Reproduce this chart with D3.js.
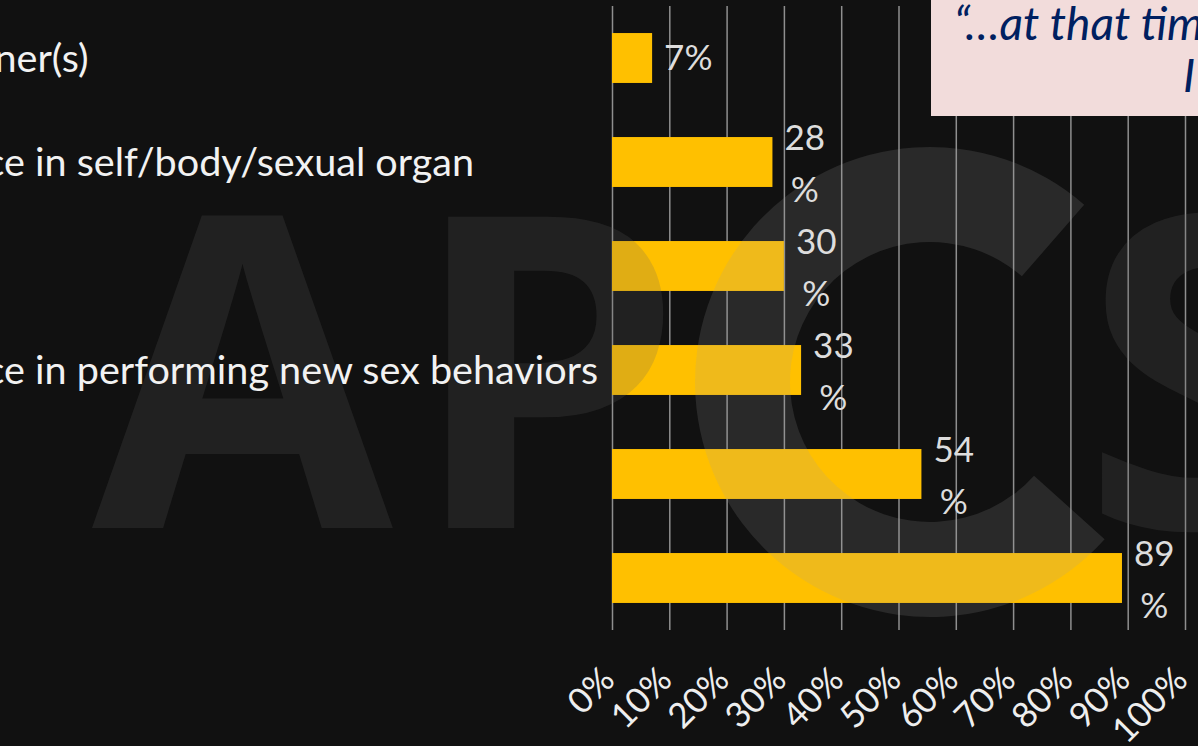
<!DOCTYPE html>
<html><head><meta charset="utf-8">
<script src="https://cdn.jsdelivr.net/npm/d3@7"></script>
<style>
html,body{margin:0;padding:0;background:#111;overflow:hidden}
svg{display:block}
</style></head><body>
<svg id="chart" width="1198" height="746"></svg>
<script>
// ---- data ----
const categories = [
  "Closeness to partner(s)",
  "Greater confidence in self/body/sexual organ",
  "",
  "Greater confidence in performing new sex behaviors",
  "",
  ""
];
const values = [7, 28, 30, 33, 54, 89];
const valueLabels = ["7%", "28%", "30%", "33%", "54%", "89%"];
const tickValues = [0, 10, 20, 30, 40, 50, 60, 70, 80, 90, 100];
const tickLabels = ["0%", "10%", "20%", "30%", "40%", "50%", "60%", "70%", "80%", "90%", "100%"];
const quoteLines = ["\u201C\u2026at that time", "I"];
const watermarkLetters = ["A", "P", "S"];

// ---- setup ----
const W = 1198, H = 746;
const svg = d3.select("#chart");
svg.append("rect").attr("width", W).attr("height", H).attr("fill", "#111111");

const FONT = "Lato, 'Open Sans', sans-serif";
const x = d3.scaleLinear().domain([0, 100]).range([612, 1185]);
const y = d3.scaleBand().domain(d3.range(values.length)).range([6, 630])
  .paddingInner(0.52).paddingOuter(0.26);

// gridlines + tick labels
const axis = d3.axisBottom(x).tickValues(tickValues)
  .tickFormat((d, i) => tickLabels[i]).tickSize(-(630 - 6)).tickPadding(0);
const gx = svg.append("g").attr("transform", "translate(0,630)").call(axis);
gx.select(".domain").remove();
gx.selectAll(".tick line").attr("stroke", "#8f8f8f").attr("stroke-width", 1.5);
gx.selectAll(".tick text")
  .attr("x", null).attr("y", null).attr("dy", null)
  .attr("text-anchor", "end")
  .attr("transform", "translate(4,52) rotate(-45)")
  .attr("fill", "#eeeeee")
  .style("font-family", FONT).style("font-size", "35px");

// bars
svg.append("g").selectAll("rect").data(values).join("rect")
  .attr("x", x(0))
  .attr("y", (d, i) => y(i))
  .attr("width", d => x(d) - x(0))
  .attr("height", y.bandwidth())
  .attr("fill", "#FFC000");

// watermark
const wm = svg.append("g").attr("pointer-events", "none");
const wmPos = [[92, 528], [409, 528], [1082, 528]];
wm.selectAll("text").data(watermarkLetters).join("text")
  .attr("x", (d, i) => wmPos[i][0]).attr("y", (d, i) => wmPos[i][1])
  .text(d => d)
  .attr("fill", "#666666").attr("fill-opacity", 0.2)
  .style("font-family", "'Open Sans', sans-serif").style("font-weight", 700)
  .style("font-size", "436px");
const ring = d3.arc().innerRadius(140).outerRadius(235)
  .startAngle(132 * Math.PI / 180).endAngle(401 * Math.PI / 180);
wm.append("path").attr("d", ring()).attr("transform", "translate(930,382)")
  .attr("fill", "#a0a0a0").attr("fill-opacity", 0.17);

// quote box
svg.append("rect").attr("x", 931).attr("y", -2).attr("width", 300).attr("height", 118)
  .attr("fill", "#F2DCDB");
const qPos = [[954, 40], [1183, 92]];
svg.append("g").selectAll("text").data(quoteLines).join("text")
  .attr("x", (d, i) => qPos[i][0]).attr("y", (d, i) => qPos[i][1])
  .text(d => d)
  .attr("fill", "#002060")
  .style("font-family", FONT).style("font-style", "italic").style("font-size", "46px");

// category labels (left-aligned, clipped by the slide edge)
const catG = svg.append("g");
const catText = catG.selectAll("text").data(categories).join("text")
  .attr("y", (d, i) => y(i) + y.bandwidth() / 2 + 14)
  .text(d => d)
  .attr("fill", "#f2f2f2")
  .style("font-family", FONT).style("font-size", "39.6px");
// common left edge so that " in" of the second label starts near the slide edge
const ref = catText.filter((d, i) => i === 1).node();
const prefixLen = ref.getSubStringLength(0, categories[1].indexOf(" in") + 1);
const x0 = 35 - prefixLen;
catText.attr("x", x0);

// value labels
const vg = svg.append("g");
values.forEach((v, i) => {
  const cy = y(i) + y.bandwidth() / 2;
  const left = x(v) + 12;
  const t = vg.append("text").text(valueLabels[i])
    .attr("fill", "#dddddd")
    .style("font-family", FONT).style("font-size", "35px");
  const w = t.node().getComputedTextLength();
  if (w <= 56) {
    t.attr("x", left).attr("y", cy + 12);
  } else {
    const num = valueLabels[i].replace("%", "");
    t.text(num);
    const w1 = t.node().getComputedTextLength();
    const cx = left + w1 / 2;
    t.attr("x", cx).attr("y", cy - 12).attr("text-anchor", "middle");
    vg.append("text").text("%")
      .attr("x", cx).attr("y", cy + 40).attr("text-anchor", "middle")
      .attr("fill", "#dddddd")
      .style("font-family", FONT).style("font-size", "35px");
  }
});
</script>
</body></html>
